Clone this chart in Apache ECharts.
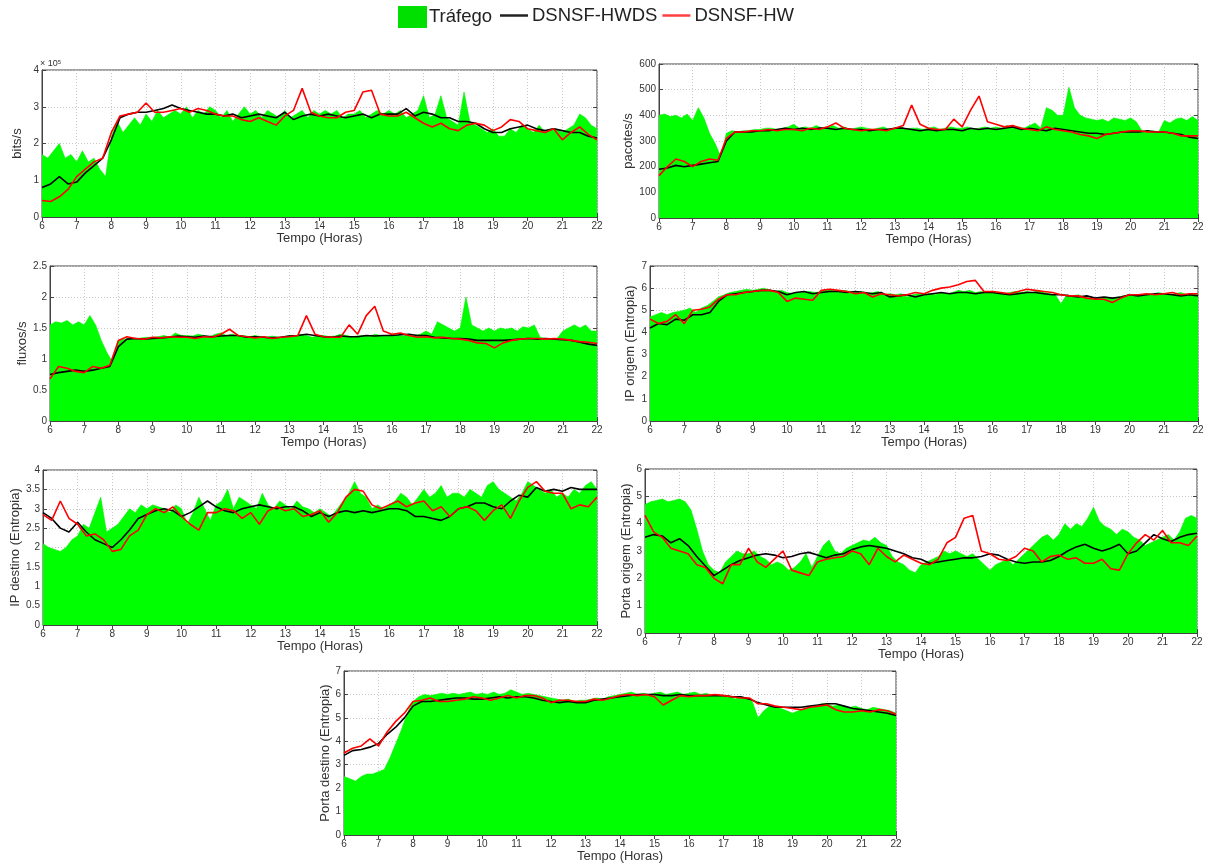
<!DOCTYPE html>
<html>
<head>
<meta charset="utf-8">
<script src="https://cdn.jsdelivr.net/npm/echarts@6/dist/echarts.min.js"></script>
<style>html,body{margin:0;padding:0;background:#fff}#c{width:1216px;height:864px}</style>
</head>
<body>
<div id="c"></div>
<script>
// ---- DATA (hours 6..22; traffic every 10 min, models every 15 min) ----
const xTicks = [6,7,8,9,10,11,12,13,14,15,16,17,18,19,20,21,22];
const seriesNames = ['Tráfego','DSNSF-HWDS','DSNSF-HW'];

// Panel 1: bits/s (x10^5)
const bitsTraffic = [
 1.7,1.6,1.8,2.0,1.6,1.7, 1.5,1.8,1.5,1.6,1.3,1.1, 2.2,2.6,2.3,2.5,2.7,2.5,
 2.8,2.6,2.9,2.7,2.8,2.9, 2.8,3.0,2.7,2.9,2.8,3.0, 2.9,2.7,2.9,2.6,2.8,3.0,
 2.8,2.9,2.7,2.9,2.8,2.7, 2.9,2.7,2.8,2.9,2.7,2.9, 2.8,2.9,2.8,2.9,2.7,2.8,
 2.8,2.9,2.7,2.8,2.9,2.8, 2.9,2.8,2.9,2.7,2.8,2.9, 3.3,2.7,2.8,3.3,2.7,2.6,
 2.5,3.4,2.6,2.5,2.4,2.3, 2.4,2.2,2.2,2.4,2.3,2.5, 2.4,2.3,2.5,2.3,2.4,2.4,
 2.3,2.4,2.5,2.8,2.7,2.5, 2.4];
const bitsHWDS = [
 0.8,0.9,1.1,0.9, 0.95,1.2,1.4,1.6, 2.1,2.7,2.8,2.85, 2.85,2.9,2.95,3.05,
 2.95,2.9,2.85,2.8, 2.8,2.75,2.8,2.7, 2.75,2.8,2.75,2.7, 2.85,2.65,2.75,2.8,
 2.75,2.8,2.75,2.7, 2.75,2.8,2.7,2.8, 2.8,2.8,2.95,2.75, 2.85,2.8,2.7,2.7,
 2.6,2.6,2.55,2.4, 2.3,2.3,2.4,2.45, 2.5,2.4,2.35,2.4, 2.35,2.3,2.3,2.2, 2.15];
const bitsHW = [
 0.45,0.42,0.55,0.75, 1.1,1.3,1.5,1.6, 2.3,2.75,2.8,2.85, 3.1,2.85,2.85,2.9,
 2.95,2.85,2.95,2.9, 2.8,2.75,2.75,2.65, 2.6,2.7,2.6,2.5, 2.75,2.9,3.5,2.85,
 2.75,2.7,2.7,2.85, 2.9,3.4,3.45,2.8, 2.75,2.75,2.85,2.7, 2.55,2.45,2.55,2.4,
 2.35,2.5,2.55,2.5, 2.35,2.45,2.65,2.6, 2.4,2.35,2.3,2.4, 2.1,2.3,2.45,2.25, 2.1];

// Panel 2: pacotes/s
const pktTraffic = [
 400,405,395,400,390,405, 380,430,390,330,290,240, 330,340,335,340,340,345,
 345,350,350,345,350,355, 365,350,355,350,360,350, 355,360,350,355,345,350,
 355,350,345,350,355,345, 350,355,345,350,350,345, 350,355,345,350,355,350,
 350,355,345,350,355,350, 355,350,360,350,355,350, 360,370,350,430,420,400,
 400,510,430,400,390,385, 380,385,375,390,385,380, 390,375,340,335,340,335,
 380,370,385,390,380,395, 380];
const pktHWDS = [
 190,195,205,200, 205,210,215,220, 300,335,335,335, 340,340,345,350,
 345,350,345,350, 350,345,350,345, 345,340,345,345, 350,350,345,340,
 345,340,345,345, 340,350,345,350, 345,350,355,345, 350,345,340,350,
 345,340,335,330, 330,325,330,335, 335,335,340,335, 335,330,325,315, 310];
const pktHW = [
 165,200,230,220, 200,220,230,225, 310,335,335,340, 340,345,340,345,
 345,340,350,345, 355,370,350,345, 340,345,345,340, 350,360,440,365,
 350,345,345,385, 355,420,475,375, 365,355,360,350, 345,340,355,345,
 340,335,325,320, 310,325,330,335, 340,340,335,335, 335,330,320,320, 320];

// Panel 3: fluxos/s
const flowTraffic = [
 1.55,1.6,1.58,1.62,1.55,1.6, 1.55,1.7,1.55,1.3,1.1,0.95, 1.3,1.32,1.33,1.32,1.34,1.35,
 1.35,1.36,1.38,1.35,1.42,1.38, 1.38,1.37,1.4,1.38,1.36,1.4, 1.42,1.38,1.4,1.37,1.38,1.36,
 1.38,1.36,1.35,1.37,1.35,1.36, 1.38,1.36,1.4,1.38,1.35,1.37, 1.38,1.36,1.37,1.4,1.38,1.36,
 1.37,1.38,1.36,1.4,1.38,1.37, 1.4,1.38,1.37,1.4,1.38,1.4, 1.45,1.4,1.6,1.55,1.5,1.45,
 1.5,2.0,1.55,1.5,1.45,1.5, 1.45,1.5,1.48,1.5,1.45,1.52, 1.5,1.55,1.35,1.33,1.32,1.33,
 1.45,1.5,1.55,1.5,1.55,1.45, 1.45];
const flowHWDS = [
 0.75,0.78,0.8,0.82, 0.8,0.82,0.85,0.88, 1.2,1.32,1.33,1.32, 1.33,1.34,1.35,1.37,
 1.36,1.35,1.37,1.36, 1.37,1.38,1.38,1.35, 1.36,1.35,1.34,1.35, 1.37,1.38,1.4,1.38,
 1.36,1.35,1.37,1.36, 1.36,1.38,1.37,1.38, 1.38,1.39,1.4,1.38, 1.38,1.35,1.34,1.33,
 1.33,1.32,1.3,1.3, 1.3,1.3,1.31,1.32, 1.33,1.32,1.33,1.32, 1.31,1.3,1.27,1.24, 1.22];
const flowHW = [
 0.68,0.88,0.85,0.8, 0.78,0.88,0.85,0.9, 1.3,1.36,1.33,1.32, 1.35,1.34,1.36,1.35,
 1.35,1.33,1.36,1.35, 1.4,1.48,1.38,1.36, 1.34,1.36,1.33,1.35, 1.36,1.38,1.7,1.4,
 1.36,1.35,1.35,1.55, 1.4,1.7,1.85,1.45, 1.4,1.42,1.38,1.35, 1.36,1.34,1.35,1.33,
 1.32,1.3,1.26,1.25, 1.18,1.26,1.3,1.32, 1.33,1.33,1.32,1.33, 1.32,1.3,1.28,1.27, 1.25];

// Panel 4: IP origem (Entropia)
const srcIpTraffic = [
 4.7,4.8,4.9,4.8,4.9,4.95, 5.0,5.1,4.9,5.1,5.2,5.4, 5.6,5.7,5.8,5.85,5.9,5.95,
 5.9,5.95,6.0,5.9,5.85,5.9, 5.8,5.75,5.8,5.8,5.85,5.8, 5.85,5.95,5.9,5.85,5.9,5.85,
 5.8,5.85,5.75,5.8,5.85,5.7, 5.75,5.7,5.75,5.6,5.7,5.75, 5.7,5.75,5.7,5.8,5.75,5.8,
 5.9,5.85,5.9,5.8,5.85,5.8, 5.85,5.8,5.75,5.8,5.85,5.8, 5.85,5.8,5.9,5.8,5.75,5.7,
 5.3,5.7,5.65,5.7,5.6,5.55, 5.5,5.55,5.6,5.5,5.6,5.65, 5.7,5.65,5.7,5.75,5.7,5.8,
 5.75,5.7,5.75,5.8,5.7,5.75, 5.7];
const srcIpHWDS = [
 4.2,4.4,4.35,4.6, 4.55,4.8,4.8,4.9, 5.4,5.7,5.75,5.8, 5.85,5.9,5.9,5.85,
 5.7,5.8,5.85,5.75, 5.8,5.85,5.85,5.8, 5.85,5.8,5.75,5.8, 5.6,5.65,5.7,5.6,
 5.7,5.75,5.8,5.75, 5.8,5.8,5.75,5.8, 5.8,5.75,5.7,5.75, 5.8,5.8,5.75,5.7,
 5.7,5.65,5.6,5.65, 5.55,5.6,5.55,5.6, 5.7,5.65,5.7,5.75, 5.75,5.7,5.65,5.7, 5.65];
const srcIpHW = [
 4.6,4.4,4.5,4.8, 4.4,5.0,5.05,5.15, 5.5,5.7,5.7,5.8, 5.85,5.9,5.9,5.8,
 5.4,5.55,5.5,5.45, 5.9,5.95,5.9,5.85, 5.75,5.8,5.6,5.75, 5.7,5.65,5.7,5.8,
 5.75,5.9,6.0,6.05, 6.15,6.3,6.35,5.85, 5.85,5.8,5.75,5.85, 5.95,5.9,5.85,5.8,
 5.7,5.65,5.65,5.55, 5.5,5.5,5.35,5.55, 5.7,5.7,5.75,5.7, 5.75,5.8,5.7,5.75, 5.75];

// Panel 5: IP destino (Entropia)
const dstIpTraffic = [
 2.1,2.0,1.95,1.9,2.0,2.2, 2.3,2.6,2.5,2.9,3.3,2.4, 2.5,2.6,2.8,3.0,2.9,3.1,
 3.0,3.1,3.05,3.0,2.9,3.1, 3.0,2.6,2.9,3.3,3.0,2.7, 3.1,3.2,3.5,3.0,3.3,3.2,
 3.1,3.0,3.4,3.1,3.0,3.2, 3.1,3.0,3.2,3.05,3.0,2.9, 3.0,2.9,2.8,3.0,3.2,3.4,
 3.7,3.4,3.3,3.0,3.1,3.0, 3.1,3.2,3.4,3.3,3.1,3.3, 3.5,3.3,3.4,3.6,3.3,3.4,
 3.4,3.3,3.5,3.4,3.3,3.6, 3.7,3.5,3.4,3.3,3.2,3.4, 3.7,3.6,3.5,3.4,3.5,3.3,
 3.4,3.3,3.5,3.4,3.6,3.7, 3.5];
const dstIpHWDS = [
 2.9,2.75,2.5,2.4, 2.65,2.4,2.2,2.1, 2.0,2.2,2.45,2.75, 2.85,2.95,3.0,2.95,
 2.8,2.9,3.05,3.2, 3.05,2.95,2.9,3.0, 3.05,3.1,3.05,3.0, 3.05,3.05,2.95,2.8,
 2.9,2.8,2.9,2.95, 2.9,2.95,2.9,2.95, 3.0,3.0,2.95,2.8, 2.8,2.75,2.7,2.8,
 3.0,3.05,3.15,3.15, 3.05,3.0,3.2,3.35, 3.3,3.55,3.45,3.5, 3.45,3.55,3.5,3.5, 3.5];
const dstIpHW = [
 2.85,2.7,3.2,2.75, 2.6,2.3,2.35,2.2, 1.9,1.95,2.3,2.45, 2.85,3.0,2.9,3.05,
 2.8,2.6,2.45,2.9, 2.9,3.0,2.95,2.75, 2.9,2.6,2.95,3.05, 2.95,3.0,2.8,2.85,
 2.95,2.65,2.9,3.3, 3.5,3.45,3.1,3.0, 3.1,3.2,3.05,3.15, 3.2,2.95,3.05,2.8,
 3.0,3.05,2.95,2.7, 2.95,3.1,2.75,3.2, 3.55,3.7,3.45,3.4, 3.4,3.0,3.1,3.05, 3.3];

// Panel 6: Porta origem (Entropia)
const srcPortTraffic = [
 4.7,4.8,4.85,4.9,4.8,4.85, 4.9,4.8,4.5,3.8,3.0,2.5, 2.3,2.2,2.6,2.8,3.0,2.9,
 2.9,3.0,2.8,2.7,2.5,2.6, 2.5,2.3,2.4,2.6,2.9,2.4, 2.8,3.2,3.4,3.0,2.9,3.1,
 3.2,3.3,3.4,3.35,3.5,3.3, 3.2,2.8,2.6,2.5,2.3,2.2, 2.5,2.6,2.7,2.8,3.0,2.9,
 3.0,2.9,2.8,2.9,2.7,2.5, 2.3,2.5,2.6,2.7,2.5,2.7, 2.9,3.1,3.3,3.5,3.6,3.4,
 3.6,4.0,3.8,4.0,3.9,4.2, 4.6,4.1,3.9,3.8,3.6,3.8, 3.7,3.5,3.4,3.2,3.3,3.4,
 3.5,3.6,3.4,3.7,4.2,4.3, 4.2];
const srcPortHWDS = [
 3.5,3.6,3.55,3.3, 3.45,3.2,2.8,2.45, 2.1,2.3,2.5,2.65, 2.75,2.85,2.9,2.85,
 2.75,2.8,2.9,2.95, 2.85,2.75,2.85,2.9, 3.05,3.15,3.2,3.15, 3.1,3.0,2.9,2.75,
 2.7,2.55,2.6,2.65, 2.7,2.75,2.75,2.8, 2.9,2.85,2.7,2.6, 2.55,2.6,2.6,2.65,
 2.8,3.0,3.15,3.25, 3.1,3.0,3.1,3.25, 2.9,3.0,3.3,3.6, 3.45,3.35,3.5,3.6, 3.65];
const srcPortHW = [
 4.3,3.7,3.5,3.1, 3.0,2.9,2.5,2.4, 2.0,1.8,2.5,2.5, 3.1,2.6,2.4,2.7,
 3.0,2.3,2.2,2.1, 2.6,2.7,2.75,2.8, 3.0,2.9,2.5,3.1, 2.8,2.6,2.85,2.7,
 2.55,2.5,2.7,3.3, 3.5,4.2,4.3,3.0, 2.9,2.7,2.65,2.8, 3.1,3.0,2.6,2.8,
 2.85,2.7,2.75,2.55, 2.55,2.7,2.35,2.3, 2.9,3.3,3.6,3.4, 3.75,3.3,3.3,3.2, 3.55];

// Panel 7: Porta destino (Entropia)
const dstPortTraffic = [
 2.5,2.4,2.3,2.5,2.6,2.6, 2.7,2.8,3.3,3.9,4.5,5.2, 5.7,5.9,6.0,5.95,6.0,6.05,
 6.0,6.05,6.0,6.05,6.1,6.0, 6.05,6.0,6.1,6.0,6.05,6.2, 6.1,6.0,6.05,6.0,5.95,5.9,
 5.85,5.8,5.75,5.8,5.7,5.75, 5.75,5.8,5.85,5.8,5.9,5.95, 6.0,6.05,6.1,6.0,6.05,6.0,
 6.05,6.1,6.0,6.05,6.1,6.0, 6.05,6.1,6.0,6.05,5.95,6.0, 5.9,5.95,5.8,5.9,5.85,5.7,
 5.0,5.3,5.5,5.45,5.4,5.3, 5.2,5.3,5.4,5.45,5.5,5.6, 5.6,5.5,5.55,5.5,5.45,5.5,
 5.4,5.35,5.45,5.4,5.35,5.3, 5.2];
const dstPortHWDS = [
 3.4,3.6,3.65,3.75, 3.9,4.3,4.6,5.0, 5.5,5.7,5.7,5.75, 5.8,5.85,5.85,5.8,
 5.8,5.85,5.9,5.85, 5.9,5.9,5.85,5.75, 5.7,5.65,5.7,5.65, 5.65,5.75,5.8,5.85,
 5.9,5.95,6.0,6.0, 6.0,5.95,5.95,6.0, 5.95,5.95,5.95,5.95, 5.95,5.9,5.9,5.8,
 5.65,5.55,5.45,5.45, 5.45,5.45,5.5,5.55, 5.6,5.6,5.5,5.4, 5.35,5.3,5.25,5.2, 5.1];
const dstPortHW = [
 3.5,3.7,3.8,4.1, 3.8,4.4,4.85,5.2, 5.7,5.75,5.85,5.7, 5.7,5.75,5.8,5.9,
 5.85,5.75,5.85,5.95, 5.85,5.95,5.95,5.85, 5.65,5.75,5.75,5.7, 5.7,5.8,5.75,5.85,
 5.95,6.0,5.95,6.0, 5.9,5.55,5.75,5.95, 5.9,5.95,5.95,6.0, 5.95,5.9,5.85,5.85,
 5.6,5.6,5.5,5.45, 5.4,5.35,5.45,5.5, 5.55,5.35,5.25,5.25, 5.3,5.25,5.35,5.3, 5.15];

const yNames = ['bits/s','pacotes/s','fluxos/s','IP origem (Entropia)','IP destino (Entropia)','Porta origem (Entropia)','Porta destino (Entropia)'];
const yMax = [4, 600, 2.5, 7, 4, 6, 7];
const yStep = [1, 100, 0.5, 1, 0.5, 1, 1];
const panelData = [
  [bitsTraffic, bitsHWDS, bitsHW],
  [pktTraffic, pktHWDS, pktHW],
  [flowTraffic, flowHWDS, flowHW],
  [srcIpTraffic, srcIpHWDS, srcIpHW],
  [dstIpTraffic, dstIpHWDS, dstIpHW],
  [srcPortTraffic, srcPortHWDS, srcPortHW],
  [dstPortTraffic, dstPortHWDS, dstPortHW]
];

// ---- LAYOUT ----
const boxes = [ // [left, right, top, bottom] pixel edges of the plot box
  [42, 597, 70, 217],
  [659, 1198, 64, 218],
  [50, 597, 266, 421],
  [650, 1198, 266, 421],
  [43, 597, 470, 625],
  [645, 1197, 469, 633],
  [344, 896, 671, 835]
];
const yNameGap = [18, 18, 15, 13, 19, 12, 11];

const FONT = 'Liberation Sans, Arial, sans-serif';
const grids = [], xAxes = [], yAxes = [], series = [];
function pairs(vals, start, end) {
  const step = (end - start) / (vals.length - 1);
  return vals.map((v, i) => [start + i * step, v]);
}
const tickStyle = {show: true, inside: true, length: 4, lineStyle: {color: '#444'}};
boxes.forEach((b, k) => {
  grids.push({left: b[0], width: b[1] - b[0], top: b[2], height: b[3] - b[2],
    show: true, borderColor: '#444', borderWidth: 1, backgroundColor: '#fff'});
  xAxes.push({type: 'value', gridIndex: k, min: xTicks[0], max: xTicks[xTicks.length - 1], interval: 1,
    name: 'Tempo (Horas)', nameLocation: 'middle', nameGap: 14,
    nameTextStyle: {fontFamily: FONT, fontSize: 13, color: '#333'},
    axisLine: {show: true, onZero: false, lineStyle: {color: '#444', width: 1}},
    axisTick: tickStyle,
    axisLabel: {fontFamily: FONT, fontSize: 10, color: '#333', margin: 4},
    splitLine: {show: true, lineStyle: {color: '#c8c8c8', type: [1, 2], width: 1}}});
  yAxes.push({type: 'value', gridIndex: k, min: 0, max: yMax[k], interval: yStep[k],
    name: yNames[k], nameLocation: 'middle', nameGap: yNameGap[k],
    nameTextStyle: {fontFamily: FONT, fontSize: 13, color: '#333'},
    axisLine: {show: true, lineStyle: {color: '#444', width: 1}},
    axisTick: tickStyle,
    axisLabel: {fontFamily: FONT, fontSize: 10, color: '#333', margin: 3},
    splitLine: {show: true, lineStyle: {color: '#c8c8c8', type: [1, 2], width: 1}}});
  const d = panelData[k];
  series.push({name: seriesNames[0], type: 'line', xAxisIndex: k, yAxisIndex: k,
    data: pairs(d[0], 6, 22), symbol: 'none', silent: true, z: 1,
    lineStyle: {width: 0.6, color: '#00ee00'}, itemStyle: {color: '#00e000'},
    areaStyle: {color: '#00ff00', opacity: 1}});
  series.push({name: seriesNames[1], type: 'line', xAxisIndex: k, yAxisIndex: k,
    data: pairs(d[1], 6, 22), symbol: 'none', showSymbol: false, z: 3,
    lineStyle: {width: 1.6, color: '#000'}, itemStyle: {color: '#000'}});
  series.push({name: seriesNames[2], type: 'line', xAxisIndex: k, yAxisIndex: k,
    data: pairs(d[2], 6, 22), symbol: 'none', showSymbol: false, z: 4,
    lineStyle: {width: 1.6, color: '#ff0000'}, itemStyle: {color: '#ff0000'}});
});
// mirrored tick marks on the top and right edges (MATLAB-style box)
boxes.forEach((b, k) => {
  xAxes.push({type: 'value', gridIndex: k, position: 'top', min: xTicks[0], max: xTicks[xTicks.length - 1], interval: 1,
    axisLine: {show: false}, axisTick: tickStyle, axisLabel: {show: false}, splitLine: {show: false}});
  yAxes.push({type: 'value', gridIndex: k, position: 'right', min: 0, max: yMax[k], interval: yStep[k],
    axisLine: {show: false}, axisTick: tickStyle, axisLabel: {show: false}, splitLine: {show: false}});
});

const option = {
  animation: false,
  backgroundColor: '#fff',
  legend: [
    {data: [seriesNames[0]], left: 398, top: 6, padding: 0, itemWidth: 29, itemHeight: 22, icon: 'rect',
     itemGap: 4, textStyle: {fontFamily: FONT, fontSize: 18.5, color: '#222', padding: [0, 0, 0, -3]}},
    {data: [
       {name: seriesNames[1], icon: 'rect', itemStyle: {color: '#222'}},
       {name: seriesNames[2], icon: 'rect', itemStyle: {color: '#ff4040'}}],
     left: 500, top: 6, padding: 0, itemWidth: 28, itemHeight: 2.5,
     itemGap: 5, textStyle: {fontFamily: FONT, fontSize: 18.5, color: '#222', padding: [0, 0, 0, -1]}}
  ],
  graphic: [{type: 'text', left: 40, top: 59,
    style: {text: '{a|× 10}{b|5}', rich: {a: {fontFamily: FONT, fontSize: 9, fill: '#333', padding: [4, 0, 0, 0]}, b: {fontFamily: FONT, fontSize: 6, fill: '#333'}}}}],
  grid: grids, xAxis: xAxes, yAxis: yAxes, series: series
};
const chart = echarts.init(document.getElementById('c'), null, {renderer: 'canvas'});
chart.setOption(option);
</script>
</body>
</html>
